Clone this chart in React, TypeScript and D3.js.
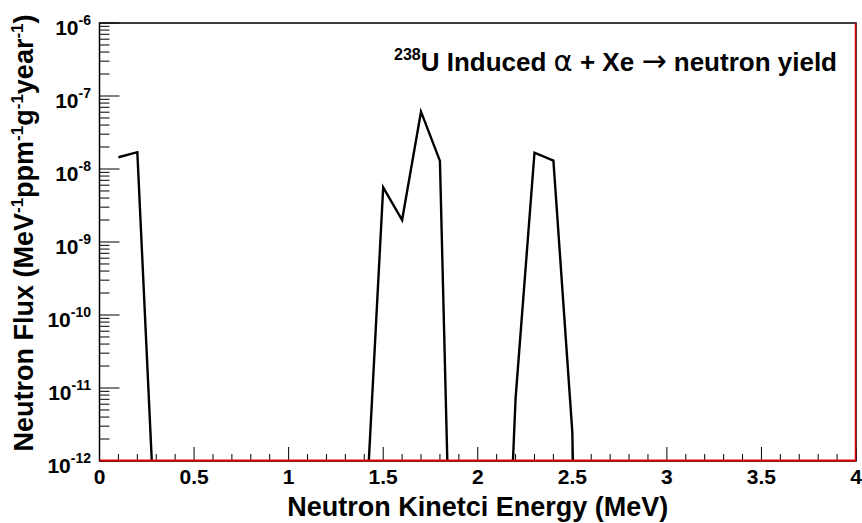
import React from "react";
import * as d3 from "d3";

// neutron energy (MeV) and flux per point of the graph
const energy = [0.1, 0.2, 0.3, 1.4, 1.5, 1.6, 1.7, 1.8, 1.9, 2.1, 2.2, 2.3, 2.4, 2.5, 2.6];
const flux = [
  1.45e-8, 1.7e-8, 5e-14, 6.6e-14, 5.6e-9, 2.0e-9, 6.1e-8, 1.29e-8, 4e-19, 5e-18, 7.2e-12,
  1.67e-8, 1.3e-8, 2.5e-12, 1e-25,
];

const xTickValues = [0, 0.5, 1, 1.5, 2, 2.5, 3, 3.5, 4];
const xTickLabels = ["0", "0.5", "1", "1.5", "2", "2.5", "3", "3.5", "4"];
const yExponents = [-12, -11, -10, -9, -8, -7, -6];

const W = 862;
const H = 523;
const left = 99.5;
const right = 856;
const top = 23;
const bottom = 461;
const font = "'Liberation Sans', Arial, Helvetica, sans-serif";

export default function App() {
  const x = d3.scaleLinear().domain([0, 4]).range([left, right]);
  const y = d3.scaleLog().domain([1e-12, 1e-6]).range([bottom, top]);

  const line = d3
    .line<number>()
    .x((_, i) => x(energy[i]))
    .y((v) => y(v));

  const xMinor = d3.range(0, 41).map((i) => i / 10);
  const yMinor: number[] = [];
  yExponents.slice(0, -1).forEach((e) => {
    for (let k = 2; k <= 9; k++) yMinor.push(k * Math.pow(10, e));
  });

  return (
    <svg
      width={W}
      height={H}
      viewBox={`0 0 ${W} ${H}`}
      style={{ position: "absolute", left: 0, top: 0, background: "#fff" }}
      fontFamily={font}
    >
      <defs>
        <clipPath id="plot">
          <rect x={left} y={top} width={right - left} height={bottom - top} />
        </clipPath>
      </defs>
      <rect x={0} y={0} width={W} height={H} fill="#fff" />

      {/* ticks */}
      <g stroke="#000" strokeWidth={1}>
        {yExponents.map((e) => (
          <line key={`ym-${e}`} x1={left} x2={left + 20} y1={y(Math.pow(10, e))} y2={y(Math.pow(10, e))} />
        ))}
        {yMinor.map((v, i) => (
          <line key={`yn-${i}`} x1={left} x2={left + 10} y1={y(v)} y2={y(v)} />
        ))}
        {xMinor.map((v, i) => (
          <line
            key={`xn-${i}`}
            x1={x(v)}
            x2={x(v)}
            y1={bottom}
            y2={bottom - (Math.abs(v * 2 - Math.round(v * 2)) < 1e-6 ? 14 : 7)}
          />
        ))}
      </g>

      {/* data */}
      <path
        d={line(flux) ?? ""}
        fill="none"
        stroke="#000"
        strokeWidth={2.4}
        strokeLinejoin="miter"
        clipPath="url(#plot)"
      />

      {/* frame */}
      <rect x={left} y={top} width={right - left} height={bottom - top} fill="none" stroke="#000" strokeWidth={1.5} />
      <line x1={left} x2={right} y1={bottom - 0.5} y2={bottom - 0.5} stroke="#e00000" strokeWidth={1.8} />
      <line x1={right - 0.5} x2={right - 0.5} y1={top} y2={bottom} stroke="#e00000" strokeWidth={1.5} />

      {/* tick labels */}
      <g fontWeight="bold" fontSize={21} fill="#000">
        {xTickValues.map((v, i) => (
          <text key={`xl-${i}`} x={x(v)} y={484} textAnchor="middle">
            {xTickLabels[i]}
          </text>
        ))}
        {yExponents.map((e) => (
          <text key={`yl-${e}`} x={91} y={y(Math.pow(10, e)) + 12} textAnchor="end">
            10
            <tspan fontSize={14} dy={-10}>
              {String(e)}
            </tspan>
          </text>
        ))}
      </g>

      {/* axis titles */}
      <text
        x={(left + right) / 2}
        y={516}
        textAnchor="middle"
        fontWeight="bold"
        fontSize={27}
      >
        Neutron Kinetci Energy (MeV)
      </text>
      <text
        transform={`translate(33, 233) rotate(-90)`}
        textAnchor="middle"
        fontWeight="bold"
        fontSize={27}
      >
        Neutron Flux (MeV
        <tspan fontSize={17} dy={-10}>-1</tspan>
        <tspan dy={10}>ppm</tspan>
        <tspan fontSize={17} dy={-10}>-1</tspan>
        <tspan dy={10}>g</tspan>
        <tspan fontSize={17} dy={-10}>-1</tspan>
        <tspan dy={10}>year</tspan>
        <tspan fontSize={17} dy={-10}>-1</tspan>
        <tspan dy={10}>)</tspan>
      </text>

      {/* plot label */}
      <text x={837} y={71} textAnchor="end" fontWeight="bold" fontSize={26}>
        <tspan fontSize={16} dy={-11}>238</tspan>
        <tspan dy={11}>U Induced </tspan>
        <tspan fontWeight="normal" fontFamily="'DejaVu Sans', sans-serif" fontSize={29}>α</tspan>
        <tspan> + Xe </tspan>
        <tspan fontWeight="normal" fontFamily="'DejaVu Sans', sans-serif" fontSize={30}>→</tspan>
        <tspan> neutron yield</tspan>
      </text>
    </svg>
  );
}
